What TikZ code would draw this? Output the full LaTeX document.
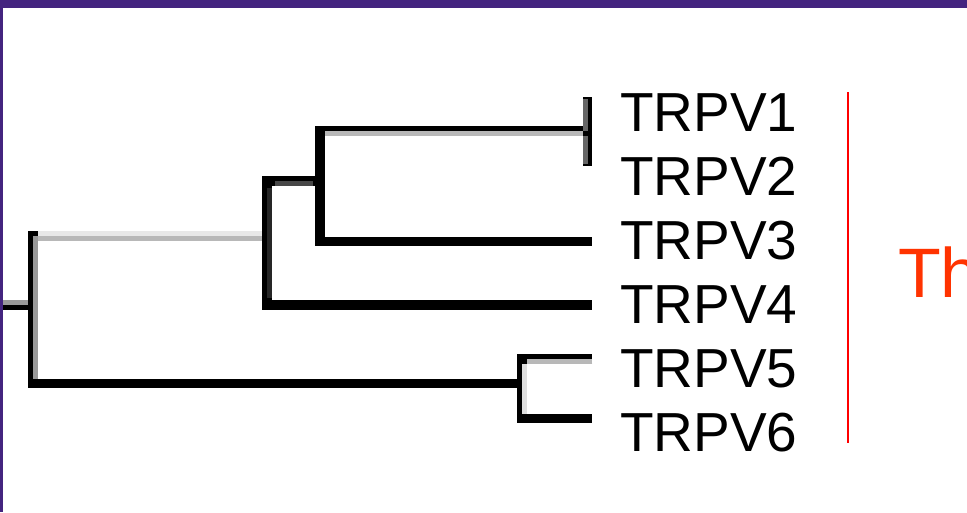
\documentclass[tikz,border=0pt]{standalone}
\usepackage{fontspec}
\setmainfont{Liberation Sans}
\begin{document}
\begin{tikzpicture}[x=1pt,y=-1pt,
  band/.style={line width=9.6pt,line cap=butt,line join=miter},
  half/.style={line width=4.8pt,line cap=butt},
  leaf/.style={anchor=base west,inner sep=0pt,font=\fontsize{55}{60}\selectfont},
  bracket/.style={line width=2pt,color=red},
  side/.style={anchor=base west,inner sep=0pt,text=titlered,font=\fontsize{70}{80}\selectfont}]
  \definecolor{frame}{HTML}{44247F}
  \definecolor{titlered}{HTML}{FF3300}
  \useasboundingbox (0,0) rectangle (967,512);
  \clip (0,0) rectangle (967,512);
  % slide frame
  \fill[frame] (0,0) rectangle (967,512);
  \fill[white] (3,8) rectangle (967,512);

  % tree nodes (centres of the drawn bands)
  \coordinate (stub) at (3,305);
  \coordinate (root) at (33,305);
  \coordinate (na) at (267,236);
  \coordinate (nb) at (320,181);
  \coordinate (nc) at (587.5,131);
  \coordinate (ncend) at (592,131);
  \coordinate (nd) at (522,383.5);
  \coordinate (tip1) at (587.5,97);
  \coordinate (tip2) at (587.5,166);
  \coordinate (tip3) at (592,241.3);
  \coordinate (tip4) at (592,304.7);
  \coordinate (tip5) at (592,359);
  \coordinate (tip6) at (592,418.5);

  % labels
  \node[leaf] (t1) at (620,131) {TRPV1};
  \node[leaf] (t2) at (620,195) {TRPV2};
  \node[leaf] (t3) at (620,259) {TRPV3};
  \node[leaf] (t4) at (620,323) {TRPV4};
  \node[leaf] (t5) at (620,387) {TRPV5};
  \node[leaf] (t6) at (620,451) {TRPV6};

  % root: stub, upper (pale) and lower branches
  \draw[band,black!40] (stub) -- (root);
  \draw[half,black] ([yshift=-2.4pt]stub) -- ([yshift=-2.4pt]root);
  \draw[band,black!9] (root |- na) -- (na);
  \draw[half,black!28] ([yshift=-2.4pt]root |- na) -- ([yshift=-2.4pt]na);
  \draw[band,black] (nd) -- (root |- nd) -- ([yshift=4.8pt]root |- na);
  \draw[half,black!40] ([xshift=2.4pt]root |- na) -- ([xshift=2.4pt,yshift=4.8pt]root |- nd);

  % clade TRPV1-4
  \draw[band,black] (nb) -- (na |- nb) -- (na |- tip4) -- (tip4);
  \draw[half,black!72] ([xshift=8pt,yshift=-2.4pt]na |- nb) -- ([xshift=-7pt,yshift=-2.4pt]nb);
  \draw[half,black!85] ([xshift=2.4pt,yshift=-7pt]na |- nb) -- ([xshift=2.4pt,yshift=7pt]na |- tip4);

  % clade TRPV1-3
  \draw[band,black] (ncend) -- (nb |- nc) -- (nb |- tip3) -- (tip3);
  \draw[half,black!28] ([xshift=5pt,yshift=-2.4pt]nb |- nc) -- ([xshift=-5pt,yshift=-2.4pt]nc);

  % TRPV1 / TRPV2
  \draw[band,black] (tip1) -- (tip2);
  \draw[half,black!60] ([xshift=-2.4pt,yshift=-2pt]tip1) -- ([xshift=-2.4pt]nc);
  \draw[half,black!60] ([xshift=-2.4pt,yshift=-5pt]nc) -- ([xshift=-2.4pt,yshift=2pt]tip2);

  % TRPV5 / TRPV6
  \draw[band,black] (tip5) -- (nd |- tip5) -- (nd |- tip6) -- (tip6);
  \draw[half,black!28] ([xshift=5pt,yshift=-2.4pt]nd |- tip5) -- ([yshift=-2.4pt]tip5);
  \draw[half,black!13] ([xshift=2.4pt,yshift=-5pt]nd |- tip5) -- ([xshift=2.4pt,yshift=5pt]nd |- tip6);

  % group bracket and its title
  \coordinate (btop) at (848,92);
  \coordinate (bbot) at (848,443);
  \draw[bracket] (btop) -- (bbot);
  \node[side] (title) at (898,297) {Th};
\end{tikzpicture}
\end{document}
